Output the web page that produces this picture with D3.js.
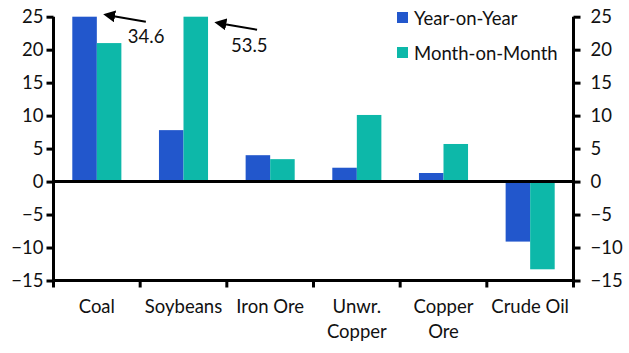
<!DOCTYPE html>
<html><head><meta charset="utf-8">
<script src="https://cdn.jsdelivr.net/npm/d3@7"></script>
<style>body{margin:0;background:#fff}text{font-family:Lato,"Noto Sans",sans-serif;fill:#111}</style>
</head><body><svg id="c" width="629" height="353"></svg>
<script>
const categories = [["Coal"],["Soybeans"],["Iron Ore"],["Unwr.","Copper"],["Copper","Ore"],["Crude Oil"]];
const yoy = [34.6, 7.8, 4.0, 2.1, 1.3, -9.1];
const mom = [21.0, 53.5, 3.4, 10.1, 5.7, -13.3];
const seriesNames = ["Year-on-Year","Month-on-Month"];
const colors = ["#2257CC","#0DB8A9"];
const ticks = [-15,-10,-5,0,5,10,15,20,25];
const notes = [{cat:0, s:0, label:"34.6"},{cat:1, s:1, label:"53.5"}];

const FS = 18.5;
const svg = d3.select("#c");
const L=53.5, R=573.5, T=16.7, B=280.5;
const y = d3.scaleLinear().domain([-15,25]).range([B,T]);
const x = d3.scaleBand().domain(d3.range(categories.length)).range([L,R]);
const inner = d3.scaleBand().domain([0,1]).range([18.8, x.bandwidth()-18.8]);

const data = [yoy, mom];
const clip = v => Math.max(-15, Math.min(25, v));
data.forEach((arr,s)=>{
  svg.append("g").selectAll("rect").data(arr).join("rect")
    .attr("x",(d,i)=>x(i)+inner(s))
    .attr("width",inner.bandwidth())
    .attr("y",d=>y(Math.max(0,clip(d))))
    .attr("height",d=>Math.abs(y(clip(d))-y(0)))
    .attr("fill",colors[s]);
});

// axes
const la = svg.append("g").attr("transform",`translate(${L},0)`)
  .call(d3.axisLeft(y).tickValues(ticks).tickSize(7).tickPadding(3));
const ra = svg.append("g").attr("transform",`translate(${R},0)`)
  .call(d3.axisRight(y).tickValues(ticks).tickSize(7).tickPadding(10));
[la,ra].forEach(a=>{
  a.select(".domain").attr("stroke","#000").attr("stroke-width",3).attr("d",`M0,${T}V${B}`);
  a.selectAll(".tick line").attr("stroke","#000").attr("stroke-width",3);
  a.selectAll(".tick text").attr("font-size",FS).attr("font-family","Lato,'Noto Sans',sans-serif").attr("fill","#111");
});
// zero line
svg.append("line").attr("x1",L).attr("x2",R).attr("y1",y(0)).attr("y2",y(0)).attr("stroke","#000").attr("stroke-width",3);
// bottom axis
svg.append("line").attr("x1",L).attr("x2",R).attr("y1",B).attr("y2",B).attr("stroke","#000").attr("stroke-width",3);
const edges = d3.range(categories.length+1).map(i=> i<categories.length ? x(i) : x(i-1)+x.bandwidth());
svg.append("g").selectAll("line").data(edges).join("line")
  .attr("x1",d=>d).attr("x2",d=>d).attr("y1",B).attr("y2",B+7)
  .attr("stroke","#000").attr("stroke-width",3);
// category labels
categories.forEach((lines,i)=>{
  lines.forEach((t,j)=>{
    svg.append("text").attr("x",x(i)+x.bandwidth()/2).attr("y",313+j*25)
      .attr("text-anchor","middle").attr("font-size",FS).text(t);
  });
});
// legend
seriesNames.forEach((n,i)=>{
  svg.append("rect").attr("x",397).attr("y",12+i*35).attr("width",11).attr("height",11).attr("fill",colors[i]);
  svg.append("text").attr("x",414).attr("y",24.5+i*35).attr("font-size",FS).text(n);
});
// annotations
svg.append("defs").append("marker").attr("id","ah").attr("viewBox","0 0 10 10")
  .attr("refX",1).attr("refY",5).attr("markerWidth",6).attr("markerHeight",6).attr("orient","auto")
  .append("path").attr("d","M0,0L10,5L0,10z").attr("fill","#000");
const noteGeom = [{dy:0, tx:31, ty:26},{dy:8, tx:23, ty:27}];
notes.forEach((n,k)=>{
  const bx = x(n.cat)+inner(n.s)+inner.bandwidth();
  const g = noteGeom[k];
  svg.append("line").attr("x1",bx+49).attr("y1",y(25)+5+g.dy).attr("x2",bx+17).attr("y2",y(25)-0.5+g.dy)
    .attr("stroke","#000").attr("stroke-width",2).attr("marker-end","url(#ah)");
  svg.append("text").attr("x",bx+g.tx).attr("y",y(25)+g.ty+g.dy).attr("font-size",FS).text(n.label);
});
</script></body></html>
